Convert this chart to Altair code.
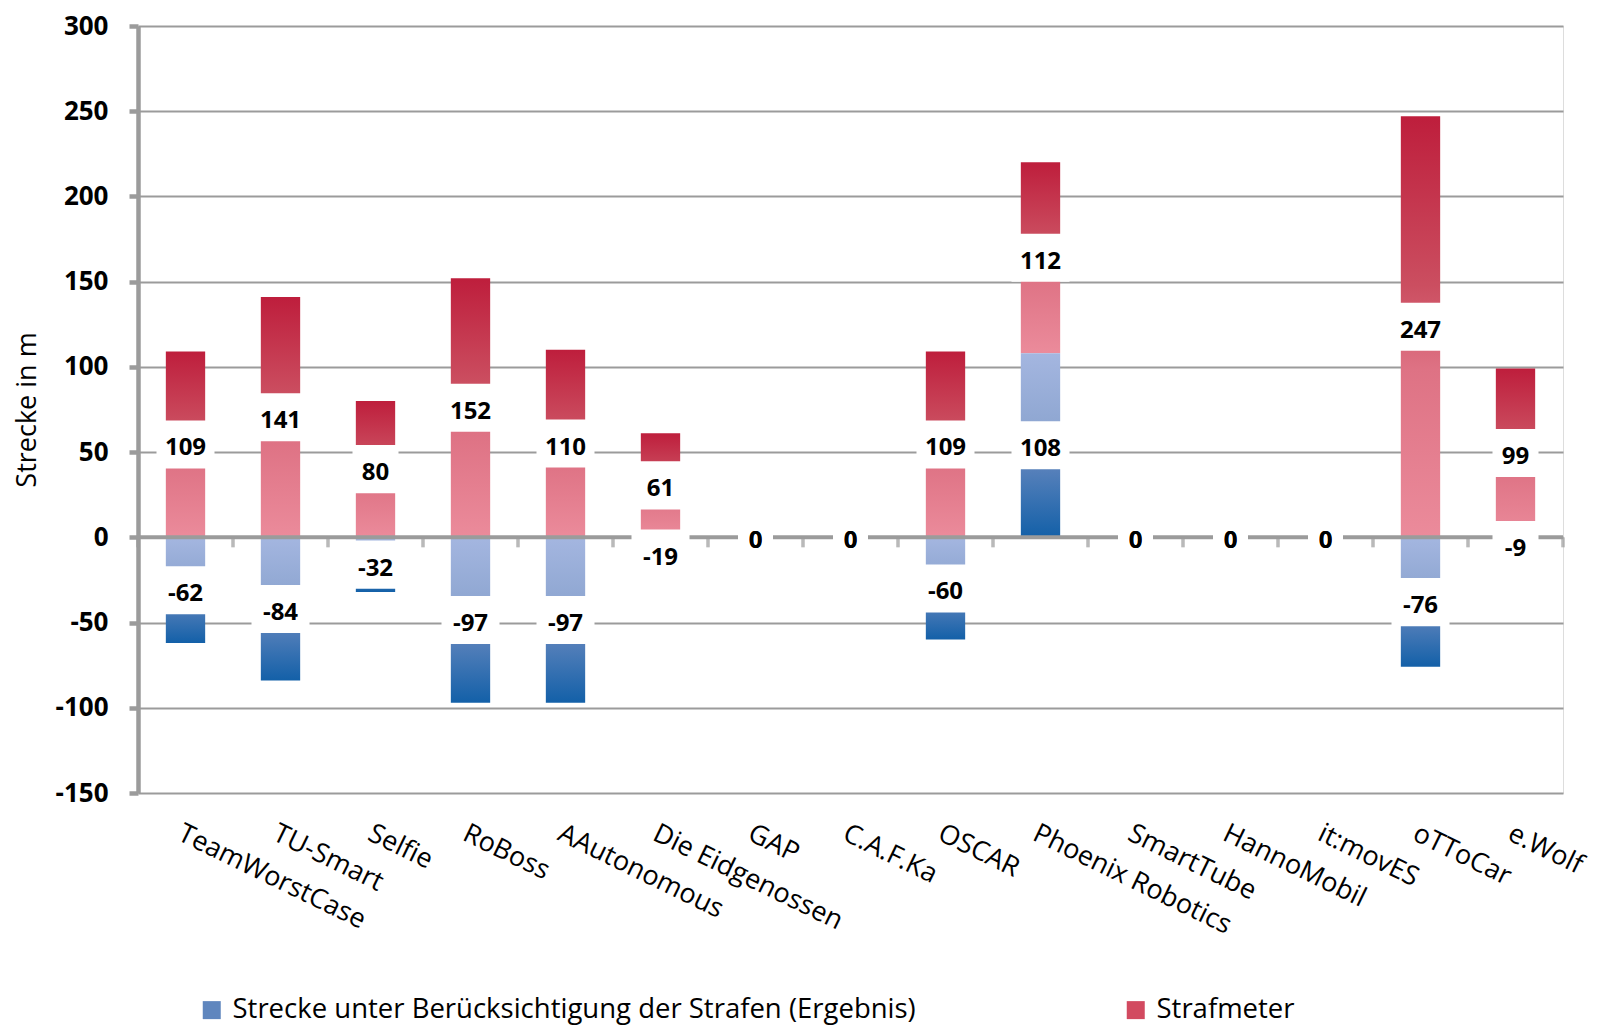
import altair as alt
import pandas as pd

teams = ["TeamWorstCase", "TU-Smart", "Selfie", "RoBoss", "AAutonomous",
         "Die Eidgenossen", "GAP", "C.A.F.Ka", "OSCAR", "Phoenix Robotics",
         "SmartTube", "HannoMobil", "it:movES", "oTToCar", "e.Wolf"]
ergebnis = [-62, -84, -32, -97, -97, -19, 0, 0, -60, 108, 0, 0, 0, -76, -9]
strafmeter = [109, 141, 80, 152, 110, 61, 0, 0, 109, 112, 0, 0, 0, 247, 99]

SER_BLUE = "Strecke unter Berücksichtigung der Strafen (Ergebnis)"
SER_RED = "Strafmeter"

bars = pd.DataFrame({"team": teams, "ergebnis": ergebnis, "strafmeter": strafmeter})
bars["blue_lo"] = bars["ergebnis"].clip(upper=0)
bars["blue_hi"] = bars["ergebnis"].clip(lower=0)
bars["red_lo"] = bars["ergebnis"].clip(lower=0)
bars["red_hi"] = bars["red_lo"] + bars["strafmeter"]

labels = pd.concat([
    pd.DataFrame({"team": teams, "label": [str(v) for v in strafmeter],
                  "mid": (bars["red_lo"] + bars["red_hi"]) / 2}),
    pd.DataFrame({"team": teams, "label": [str(v) for v in ergebnis],
                  "mid": bars["ergebnis"] / 2}),
], ignore_index=True)

legend_df = pd.DataFrame({"series": [SER_BLUE, SER_RED]})

FONT = "Open Sans"
GRID = "#9b9b9b"

yscale = alt.Scale(domain=[-150, 300], nice=False, zero=False)
xscale = alt.Scale(paddingInner=0, paddingOuter=0)

x_enc = alt.X("team:N", sort=teams, scale=xscale, title=None,
              axis=alt.Axis(labelAngle=26, labelAlign="left", labelBaseline="top",
                            labelFont=FONT, labelFontSize=27, labelColor="black",
                            labelPadding=27, ticks=False, tickSize=0, domain=False,
                            grid=False, labelLimit=400))
x_plain = alt.X("team:N", sort=teams, scale=xscale)

red_grad = {"gradient": "linear", "x1": 0, "y1": 0, "x2": 0, "y2": 1,
            "stops": [{"offset": 0, "color": "#BE1E3C"},
                      {"offset": 0.4, "color": "#CB4E60"},
                      {"offset": 0.6, "color": "#DE7284"},
                      {"offset": 1, "color": "#EB8B9B"}]}
blue_grad = {"gradient": "linear", "x1": 0, "y1": 0, "x2": 0, "y2": 1,
             "stops": [{"offset": 0, "color": "#A4B6E0"},
                       {"offset": 0.4, "color": "#8EA6D1"},
                       {"offset": 0.6, "color": "#5C83BC"},
                       {"offset": 1, "color": "#1360A8"}]}

red = alt.Chart(bars).transform_filter("datum.strafmeter != 0").mark_bar(
    width={"band": 0.414}, fill=red_grad).encode(
    x=x_enc,
    y=alt.Y("red_hi:Q", scale=yscale, title="Strecke in m",
            axis=alt.Axis(values=list(range(-150, 301, 50)), grid=True,
                          labelExpr="'' + datum.value",
                          gridColor=GRID, gridWidth=2,
                          domainColor=GRID, domainWidth=4.5,
                          tickColor=GRID, tickWidth=4.5, tickSize=9,
                          labelFont=FONT, labelFontSize=26, labelFontWeight="bold",
                          labelColor="black", labelPadding=21,
                          titleFont=FONT, titleFontSize=27, titleFontWeight="normal",
                          titleColor="black", titlePadding=14)),
    y2="red_lo:Q")

blue = alt.Chart(bars).transform_filter("datum.ergebnis != 0").mark_bar(
    width={"band": 0.414}, fill=blue_grad).encode(
    x=x_plain, y=alt.Y("blue_hi:Q", scale=yscale), y2="blue_lo:Q")

zero_line = alt.Chart(pd.DataFrame({"z": [0]})).mark_rule(
    color=GRID, strokeWidth=4).encode(y=alt.Y("z:Q", scale=yscale))

zero_ticks = alt.Chart(bars).mark_tick(
    orient="vertical", color=GRID, size=10, thickness=3.5, yOffset=5).encode(
    x=alt.X("team:N", sort=teams, scale=xscale, bandPosition=0),
    y=alt.datum(0, scale=yscale))
zero_tick_end = alt.Chart(bars).transform_filter(
    alt.datum.team == teams[-1]).mark_tick(
    orient="vertical", color=GRID, size=10, thickness=3.5, yOffset=5).encode(
    x=alt.X("team:N", sort=teams, scale=xscale, bandPosition=1),
    y=alt.datum(0, scale=yscale))

boxes = []
for n, w in [(1, 35), (2, 46), (3, 58)]:
    boxes.append(
        alt.Chart(labels).transform_filter(f"length(datum.label) == {n}")
        .transform_calculate(lo="datum.mid - 14.1", hi="datum.mid + 14.1")
        .mark_bar(width=w, color="white")
        .encode(x=x_plain, y=alt.Y("lo:Q", scale=yscale), y2="hi:Q"))

texts = alt.Chart(labels).mark_text(
    font=FONT, fontSize=24, fontWeight="bold", color="black", dy=4,
    align="center", baseline="middle").encode(
    x=x_plain, y=alt.Y("mid:Q", scale=yscale), text="label:N")

legend_layer = alt.Chart(legend_df).mark_point(
    shape="square", filled=True, opacity=0).encode(
    color=alt.Color("series:N",
                    scale=alt.Scale(domain=[SER_BLUE, SER_RED],
                                    range=["#5F86BE", "#D24A60"]),
                    legend=alt.Legend(orient="none", legendX=60, legendY=970,
                                      direction="horizontal", title=None,
                                      symbolType="square", symbolSize=324,
                                      symbolOpacity=1, symbolStrokeWidth=0,
                                      labelFont=FONT, labelFontSize=27.5,
                                      labelColor="black", labelOffset=7,
                                      labelLimit=1000, columnPadding=206)))

chart = alt.layer(red, blue, zero_line, zero_ticks, zero_tick_end, *boxes, texts,
                  legend_layer).properties(
    width=1425, height=767,
    autosize=alt.AutoSizeParams(type="none"),
    padding={"left": 130, "top": 18, "right": 27, "bottom": 236}
).configure_view(stroke=None).configure(background="white")

chart.save("out.html", embed_options={"renderer": "svg", "actions": False})
